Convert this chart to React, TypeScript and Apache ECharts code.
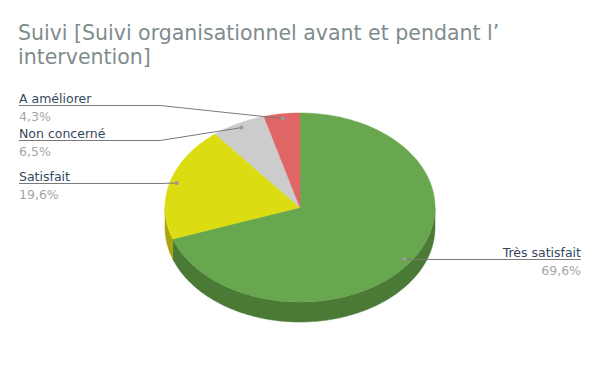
import React, { useEffect, useRef } from "react";
import * as echarts from "echarts";

// ---- data ----
const categories = ["Très satisfait", "Satisfait", "Non concerné", "A améliorer"];
const percentages = [69.6, 19.6, 6.5, 4.3];
const topColors = ["#68a74f", "#dcdc12", "#cccccc", "#e06666"];
const sideColors = ["#4a7a36", "#a8a50e", "#9a9a9a", "#a84c4c"];
const titleText = "Suivi [Suivi organisationnel avant et pendant l’\nintervention]";

// ---- layout ----
const CX = 300;
const CY = 207.5;
const RX = 135;
const RY = 94.5;
const DEPTH = 20;
const DOT_FRAC = 0.95;
const LEFT_X = 19;
const RIGHT_X = 581;
const LEFT_ELBOW = 160;
const RIGHT_ELBOW = 440;
const leftLabelY: Record<string, number> = {
  "Satisfait": 183,
  "Non concerné": 140,
  "A améliorer": 105,
};
const FONT = "DejaVu Sans";
const LABEL_SIZE = 12.5;

function pt(deg: number, f = 1, dy = 0): number[] {
  const r = (deg * Math.PI) / 180;
  return [CX + RX * f * Math.sin(r), CY - RY * f * Math.cos(r) + dy];
}

function arc(a0: number, a1: number, dy = 0): number[][] {
  const pts: number[][] = [];
  const steps = Math.max(2, Math.ceil((a1 - a0) / 1));
  for (let k = 0; k <= steps; k++) {
    pts.push(pt(a0 + ((a1 - a0) * k) / steps, 1, dy));
  }
  return pts;
}

export default function App() {
  const ref = useRef<HTMLDivElement>(null);
  useEffect(() => {
    if (!ref.current) return;
    const chart = echarts.init(ref.current, undefined, { renderer: "svg" });
    const total = percentages.reduce((a, b) => a + b, 0);

    const renderItem = (params: any, api: any) => {
      const i = params.dataIndex;
      const value = api.value(0);
      let before = 0;
      for (let k = 0; k < i; k++) before += percentages[k];
      const a0 = (before / total) * 360;
      const a1 = ((before + value) / total) * 360;
      const children: any[] = [];

      // side wall (front half only)
      const s0 = Math.max(a0, 90);
      const s1 = Math.min(a1, 270);
      if (s1 > s0) {
        const top = arc(s0, s1);
        const bottom = arc(s0, s1, DEPTH).reverse();
        children.push({
          type: "polygon",
          z2: 1,
          shape: { points: top.concat(bottom) },
          style: { fill: sideColors[i], stroke: sideColors[i], lineWidth: 0.5 },
        });
      }

      // top face
      children.push({
        type: "polygon",
        z2: 10,
        shape: { points: [[CX, CY]].concat(arc(a0, a1)) },
        style: { fill: topColors[i], stroke: topColors[i], lineWidth: 0.5 },
      });

      // label
      const mid = (a0 + a1) / 2;
      const dot = pt(mid, DOT_FRAC);
      const isRight = Math.sin((mid * Math.PI) / 180) > 0;
      const name = categories[i];
      const pctText = value.toFixed(1).replace(".", ",") + "%";
      let ly: number;
      let pts: number[][];
      let tx: number;
      let align: string;
      if (isRight) {
        ly = Math.round(dot[1]) + 0.5;
        pts = [dot, [RIGHT_ELBOW, ly], [RIGHT_X, ly]];
        tx = RIGHT_X;
        align = "right";
      } else {
        ly = (leftLabelY[name] ?? Math.round(dot[1])) + 0.5;
        pts = [dot, [LEFT_ELBOW, ly], [LEFT_X, ly]];
        tx = LEFT_X;
        align = "left";
      }
      children.push({
        type: "polyline",
        z2: 20,
        shape: { points: pts },
        style: { stroke: "#7a7a7a", lineWidth: 1, fill: null },
      });
      children.push({
        type: "circle",
        z2: 21,
        shape: { cx: dot[0], cy: dot[1], r: 2 },
        style: { fill: "#9a9a9a" },
      });
      children.push({
        type: "text",
        z2: 22,
        style: {
          text: name,
          x: tx,
          y: ly - 1,
          fill: "#34495e",
          font: `${LABEL_SIZE}px "${FONT}"`,
          align,
          textAlign: align,
          verticalAlign: "bottom",
          textVerticalAlign: "bottom",
        },
      });
      children.push({
        type: "text",
        z2: 22,
        style: {
          text: pctText,
          x: tx,
          y: ly + 4,
          fill: "#a6a6a6",
          font: `${LABEL_SIZE}px "${FONT}"`,
          align,
          textAlign: align,
          verticalAlign: "top",
          textVerticalAlign: "top",
        },
      });

      return { type: "group", children };
    };

    chart.setOption({
      animation: false,
      backgroundColor: "#ffffff",
      title: {
        text: titleText,
        left: 18,
        top: 21,
        padding: 0,
        textStyle: {
          fontFamily: FONT,
          fontSize: 20.5,
          fontWeight: "normal",
          color: "#7f8c8d",
          lineHeight: 24,
        },
      },
      series: [
        {
          type: "custom",
          coordinateSystem: "none",
          silent: true,
          renderItem,
          data: percentages.map((v) => [v]),
        },
      ],
    });
    return () => chart.dispose();
  }, []);

  return (
    <div style={{ position: "fixed", left: 0, top: 0, width: 600, height: 371, background: "#fff" }}>
      <div ref={ref} style={{ width: 600, height: 371 }} />
    </div>
  );
}
